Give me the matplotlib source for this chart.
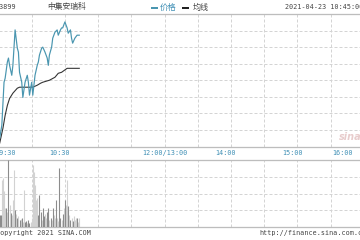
import matplotlib
matplotlib.use("Agg")
import matplotlib.pyplot as plt
from matplotlib.lines import Line2D
from matplotlib import transforms

# ---------------- data ----------------
code = "03899"
name = "中集安瑞科"
stamp = "2021-04-23 10:45:00"

# minutes since 09:30 (trading minutes, lunch removed)
price_min = [0, 1, 3, 5, 6, 8, 9, 10, 12, 13, 15, 17, 18, 19, 21, 22, 24, 26, 27, 28,
             30, 31, 33, 35, 36, 37, 39, 40, 42, 44, 45, 46, 48, 49, 51, 53, 54, 56,
             57, 58, 60, 62, 63, 65, 66, 67, 69, 71, 73]
price_val = [7.312, 7.324, 7.364, 7.494, 7.506, 7.555, 7.567, 7.545, 7.515, 7.545,
             7.652, 7.597, 7.585, 7.524, 7.494, 7.448, 7.494, 7.515, 7.494, 7.455,
             7.494, 7.455, 7.515, 7.545, 7.555, 7.576, 7.597, 7.600, 7.585, 7.567,
             7.545, 7.576, 7.600, 7.627, 7.645, 7.652, 7.636, 7.652, 7.658, 7.658,
             7.676, 7.658, 7.642, 7.652, 7.627, 7.612, 7.627, 7.636, 7.636]

avg_min = [0, 1, 4, 6, 8, 10, 13, 17, 19, 24, 31, 35, 38, 40, 46, 51, 54, 57, 62, 66, 73]
avg_val = [7.306, 7.309, 7.355, 7.394, 7.424, 7.445, 7.461, 7.476, 7.479, 7.479,
           7.479, 7.485, 7.491, 7.494, 7.500, 7.509, 7.521, 7.524, 7.536, 7.536, 7.536]

# volume per minute (0..73), with bar shade: 'D' dark, 'L' light
vol_val = [36, 36, 36, 141, 147, 108, 57, 57, 45, 201, 66, 42, 36, 81, 171, 51, 39, 27,
           33, 21, 24, 27, 15, 111, 15, 18, 12, 21, 12, 15, 27, 186, 165, 126, 81, 87,
           36, 96, 45, 21, 57, 33, 39, 27, 45, 57, 21, 27, 21, 57, 36, 27, 81, 27, 18,
           177, 27, 21, 39, 57, 81, 66, 141, 63, 36, 21, 27, 18, 33, 21, 27, 27, 15, 27]
vol_kind = list("DDDLLLLDLDLDLLLDLDLDLDLLDDLDDLLLLLLLDDDLDDLLDDLDLDLLDLLDDLDLDLLDLDLDLLLDLL")

tick_min = [0, 60, 150, 210, 270, 330]
tick_lab = ["09:30", "10:30", "12:00/13:00", "14:00", "15:00", "16:00"]
tick_dx = [7.5, -5, 0.5, -5, -4.6, -20.7]   # pixel nudges of labels

# ---------------- style ----------------
W, H = 360, 240
DPI = 100
PX = 72.0 / DPI
plt.rcParams['lines.scale_dashes'] = False
mono = "DejaVu Sans Mono"
cjk = ["Noto Sans CJK SC", "DejaVu Sans"]
price_c = "#4a96b0"
avg_c = "#333333"
lab_c = "#3f8fb5"
grid_c = "#d4d4d4"
spine_c = "#bdbdbd"
txt_c = "#444444"

fig = plt.figure(figsize=(W / DPI, H / DPI), dpi=DPI)
fig.patch.set_facecolor("white")


def fx(x):
    return x / W


def fy(y):
    return 1 - y / H


left = fx(-1.5)
width = fx(363.7) - left

ax = fig.add_axes([left, fy(146.5), width, fy(14) - fy(146.5)])
axv = fig.add_axes([left, fy(227), width, fy(160.3) - fy(227)])

for a in (ax, axv):
    a.set_xlim(0, 330)
    a.set_facecolor("white")
    for s in ("left", "right"):
        a.spines[s].set_visible(False)
    for s in ("top", "bottom"):
        a.spines[s].set_color(spine_c)
        a.spines[s].set_linewidth(1.3 * PX)
    a.tick_params(left=False, bottom=False, labelleft=False, labelbottom=False)
    for m in range(30, 330, 30):
        a.axvline(m, color=grid_c, lw=1 * PX, ls=(0, (3 * PX, 2 * PX)), zorder=0)

ax.set_ylim(7.30, 7.70)
for i in range(1, 8):
    ax.axhline(7.30 + 0.05 * i, color=grid_c, lw=1 * PX, ls=(0, (3 * PX, 2 * PX)), zorder=0)

vmax = 201
axv.set_ylim(0, vmax)
for i in range(1, 4):
    axv.axhline(vmax * i / 4, color=grid_c, lw=1 * PX, ls=(0, (3 * PX, 2 * PX)), zorder=0)

# lines
ax.plot(avg_min, avg_val, color=avg_c, lw=1.0 * PX * 1.1, zorder=3)
ax.plot(price_min, price_val, color=price_c, lw=1.0 * PX * 1.2, zorder=4)

# volume bars
cols = {"D": "#8c8c8c", "L": "#d2d2d2"}
for i, (v, k) in enumerate(zip(vol_val, vol_kind)):
    axv.vlines(i, 0, v, color=cols[k], lw=1.1 * PX, zorder=2 if k == "L" else 3)

# time labels
for m, lab, dx in zip(tick_min, tick_lab, tick_dx):
    tr = transforms.blended_transform_factory(ax.transData, fig.transFigure)
    tr = transforms.offset_copy(tr, fig=fig, x=dx, y=0, units="dots")
    ax.text(m, fy(153), lab, transform=tr, ha="center", va="center",
            fontsize=4.9, family=mono, color=lab_c, clip_on=False)

# header
fig.text(fx(-4), fy(7), code, ha="left", va="center", fontsize=4.9, family=mono, color=txt_c)
fig.text(fx(47), fy(7), name, ha="left", va="center", fontsize=5.6, family=cjk, color=txt_c)
fig.add_artist(Line2D([fx(151.5), fx(156.5)], [fy(7.5), fy(7.5)], color=price_c, lw=2 * PX,
                      transform=fig.transFigure))
fig.text(fx(160), fy(7), "价格", ha="left", va="center", fontsize=6.0, family=cjk, color=lab_c)
fig.add_artist(Line2D([fx(182.5), fx(187.5)], [fy(7.5), fy(7.5)], color="#222222", lw=2 * PX,
                      transform=fig.transFigure))
fig.text(fx(193), fy(7), "均线", ha="left", va="center", fontsize=5.8, family=cjk, color=txt_c)
fig.text(fx(285), fy(7), stamp, ha="left", va="center", fontsize=4.9, family=mono, color=txt_c)

# watermark
fig.text(fx(339), fy(137), "sina", ha="left", va="center", fontsize=7, style="italic",
         weight="bold", color="#e8cccc", family="DejaVu Sans")

# footer
fig.text(fx(-4), fy(233.5), "Copyright 2021 SINA.COM", ha="left", va="center",
         fontsize=4.9, family=mono, color=txt_c)
fig.text(fx(259), fy(233.5), "http://finance.sina.com.cn", ha="left", va="center",
         fontsize=4.9, family=mono, color=txt_c)

fig.savefig("out.png", dpi=DPI, facecolor="white")
